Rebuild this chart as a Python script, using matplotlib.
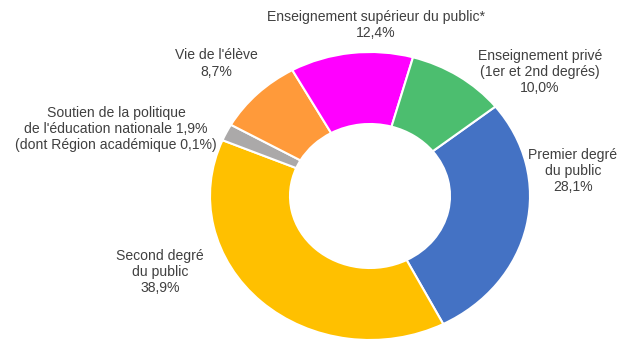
import matplotlib
matplotlib.use("Agg")
import matplotlib.pyplot as plt

plt.rcParams['font.family'] = ['Liberation Sans', 'DejaVu Sans']

# budget shares, clockwise from the top right
labels = ["Premier degré\ndu public",
          "Second degré\ndu public",
          "Soutien de la politique\nde l'éducation nationale",
          "Vie de l'élève",
          "Enseignement supérieur du public*",
          "Enseignement privé\n(1er et 2nd degrés)"]
shares = [28.1, 38.9, 1.9, 8.7, 12.4, 10.0]
colors = ["#4472C4", "#FFC000", "#ABA9A9", "#FF9A3A", "#FF00FF", "#4CBE6F"]

# label block centres in pixels (x, y from top)
label_pos = [(573, 171), (160, 272), (116, 129), (216, 63.5), (376, 25), (540, 72)]


def fmt(v):
    return f"{v:.1f}".replace(".", ",") + "%"


W, H = 620, 341
fig = plt.figure(figsize=(W / 100, H / 100), dpi=100)
ax = fig.add_axes([210 / W, 1 / H, 320 / W, 288 / H])
ax.pie(shares, colors=colors, startangle=38.4, counterclock=False,
       radius=1, wedgeprops=dict(width=0.5, edgecolor="white", linewidth=1.5))
ax.set_aspect("auto")
ax.set_xlim(-1, 1)
ax.set_ylim(-1, 1)
ax.axis("off")

for lab, val, (px, py) in zip(labels, shares, label_pos):
    if lab.startswith("Soutien"):
        txt = lab + " " + fmt(val) + "\n(dont Région académique 0,1%)"
    else:
        txt = lab + "\n" + fmt(val)
    fig.text(px / W, 1 - py / H, txt, ha="center", va="center",
             fontsize=10.1, color="#404040", linespacing=1.2)

fig.savefig("out.png", dpi=100)
